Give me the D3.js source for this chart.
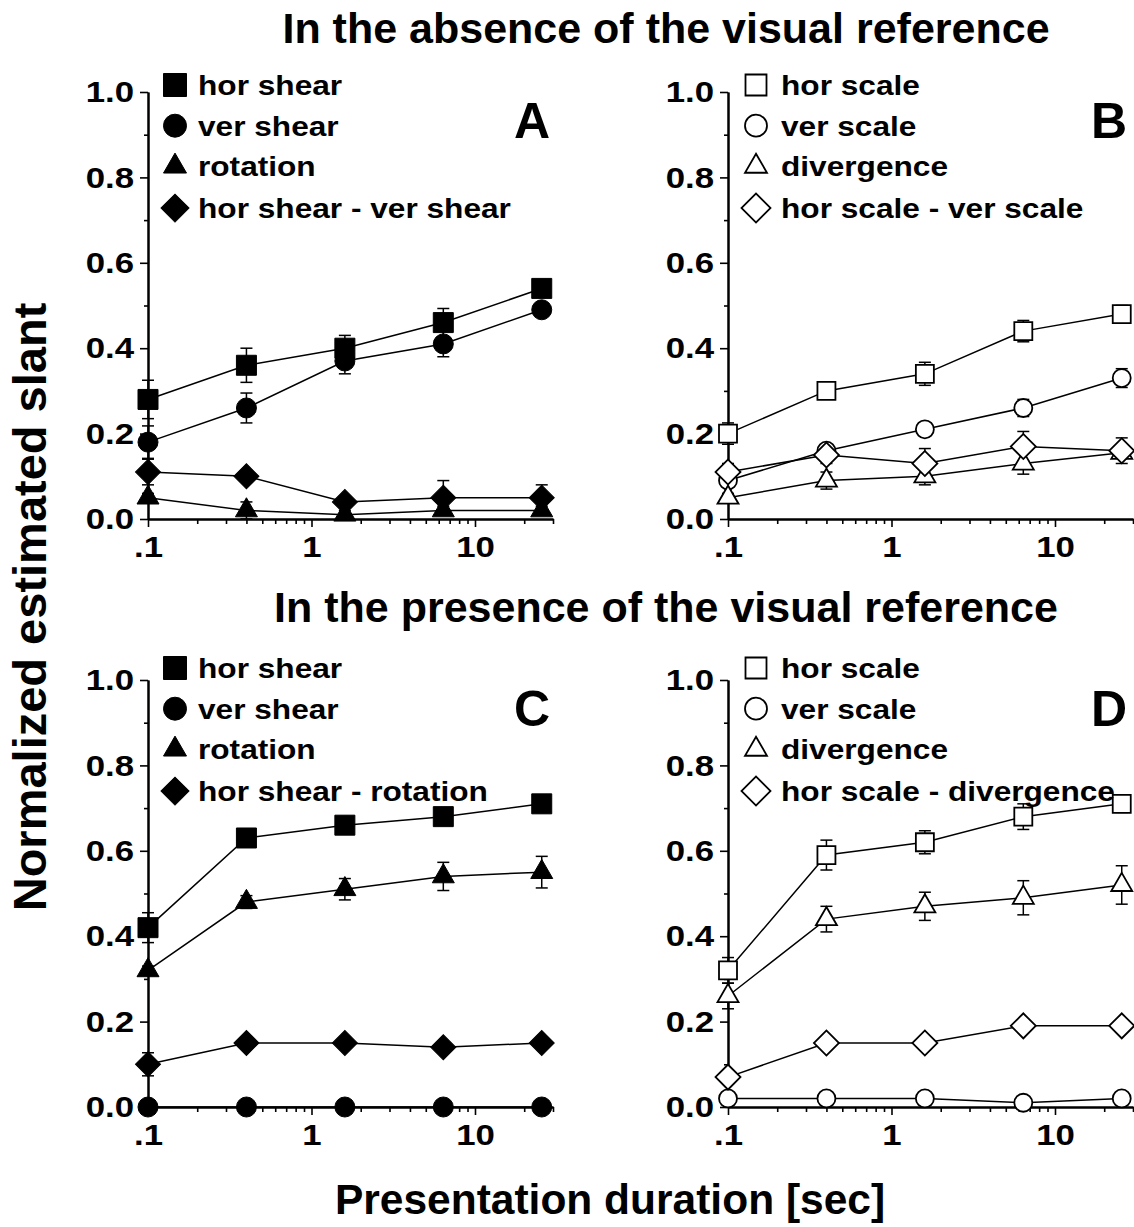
<!DOCTYPE html>
<html>
<head>
<meta charset="utf-8">
<script src="https://cdn.jsdelivr.net/npm/d3@7"></script>
<style>
body { margin: 0; background: #fff; }
svg { display: block; }
text { font-family: "Liberation Sans", Arial, sans-serif; font-weight: bold; fill: #000; }
</style>
</head>
<body>
<div id="chart"></div>
<script>
let width = 1134;
let height = 1227;

// x = presentation duration (sec)
const durations = [0.1, 0.4, 1.6, 6.4, 25.6];
const xMajorTicks = [0.1, 1, 10];
const xTickLabels = [".1", "1", "10"];
const xMinorTicks = [0.2, 0.3, 0.4, 0.5, 0.6, 0.7, 0.8, 0.9, 2, 3, 4, 5, 6, 7, 8, 9, 20, 30];
const yMajorTicks = [0, 0.2, 0.4, 0.6, 0.8, 1.0];
const yMinorTicks = [0.1, 0.3, 0.5, 0.7, 0.9];

const rowTitles = ["In the absence of the visual reference", "In the presence of the visual reference"];
const panelLetters = ["A", "B", "C", "D"];

const legendA = ["hor shear", "ver shear", "rotation", "hor shear - ver shear"];
const legendB = ["hor scale", "ver scale", "divergence", "hor scale - ver scale"];
const legendC = ["hor shear", "ver shear", "rotation", "hor shear - rotation"];
const legendD = ["hor scale", "ver scale", "divergence", "hor scale - divergence"];

// panel A
const aHorShear = [0.28, 0.36, 0.40, 0.46, 0.54];
const aHorShearErr = [0.045, 0.04, 0.03, 0.033, 0.02];
const aVerShear = [0.18, 0.26, 0.37, 0.41, 0.49];
const aVerShearErr = [0.038, 0.035, 0.03, 0.03, 0.01];
const aRotation = [0.05, 0.02, 0.01, 0.02, 0.02];
const aRotationErr = [0.01, 0.02, 0.01, 0.01, 0.01];
const aDiff = [0.11, 0.10, 0.04, 0.05, 0.05];
const aDiffErr = [0.03, 0.01, 0.01, 0.04, 0.03];

// panel B
const bHorScale = [0.20, 0.30, 0.34, 0.44, 0.48];
const bHorScaleErr = [0.025, 0.015, 0.027, 0.025, 0.02];
const bVerScale = [0.09, 0.16, 0.21, 0.26, 0.33];
const bVerScaleErr = [0.01, 0.01, 0.01, 0.02, 0.022];
const bDivergence = [0.05, 0.09, 0.10, 0.13, 0.155];
const bDivergenceErr = [0.01, 0.02, 0.02, 0.025, 0.01];
const bDiff = [0.11, 0.15, 0.13, 0.17, 0.16];
const bDiffErr = [0.02, 0.02, 0.035, 0.035, 0.03];

// panel C
const cHorShear = [0.42, 0.63, 0.66, 0.68, 0.71];
const cHorShearErr = [0.035, 0.015, 0.02, 0.015, 0.02];
const cVerShear = [0, 0, 0, 0, 0];
const cVerShearErr = [0, 0, 0, 0, 0];
const cRotation = [0.32, 0.48, 0.51, 0.54, 0.55];
const cRotationErr = [0.01, 0.015, 0.025, 0.033, 0.037];
const cDiff = [0.10, 0.15, 0.15, 0.14, 0.15];
const cDiffErr = [0.027, 0, 0, 0, 0];

// panel D
const dHorScale = [0.32, 0.59, 0.62, 0.68, 0.71];
const dHorScaleErr = [0.03, 0.035, 0.027, 0.03, 0.02];
const dVerScale = [0.02, 0.02, 0.02, 0.01, 0.02];
const dVerScaleErr = [0, 0, 0, 0, 0];
const dDivergence = [0.26, 0.44, 0.47, 0.49, 0.52];
const dDivergenceErr = [0.03, 0.03, 0.033, 0.04, 0.045];
const dDiff = [0.07, 0.15, 0.15, 0.19, 0.19];
const dDiffErr = [0, 0, 0, 0, 0];

const shapes = ["square", "circle", "triangle", "diamond"];

const panels = [
    {letter: panelLetters[0], col: 0, row: 0, open: false, legend: legendA,
        values: [aHorShear, aVerShear, aRotation, aDiff], errs: [aHorShearErr, aVerShearErr, aRotationErr, aDiffErr]},
    {letter: panelLetters[1], col: 1, row: 0, open: true, legend: legendB,
        values: [bHorScale, bVerScale, bDivergence, bDiff], errs: [bHorScaleErr, bVerScaleErr, bDivergenceErr, bDiffErr]},
    {letter: panelLetters[2], col: 0, row: 1, open: false, legend: legendC,
        values: [cHorShear, cVerShear, cRotation, cDiff], errs: [cHorShearErr, cVerShearErr, cRotationErr, cDiffErr]},
    {letter: panelLetters[3], col: 1, row: 1, open: true, legend: legendD,
        values: [dHorScale, dVerScale, dDivergence, dDiff], errs: [dHorScaleErr, dVerScaleErr, dDivergenceErr, dDiffErr]}
];

const plotW = 405;
const plotH = 427;
const colX = [148, 728];
const rowY = [92, 680];
const legendTop = [3, -2];

// data marker sizes (px across) and legend marker sizes
const markFilled = {square: 20, circle: 20, triangle: 22, diamond: 25};
const markOpen = {square: 18, circle: 18, triangle: 21, diamond: 25};
const legFilled = {square: 23, circle: 23, triangle: 23, diamond: 28};
const legOpen = {square: 21, circle: 22, triangle: 22, diamond: 29};

const tickStretch = 1.16; // glyphs in ticks and legends are drawn wider
const legStretch = 1.13;

function symbolPath(shape, dim) {
    if (shape === "square") return d3.symbol(d3.symbolSquare, dim * dim)();
    if (shape === "circle") return d3.symbol(d3.symbolCircle, Math.PI * dim * dim / 4)();
    if (shape === "triangle") return d3.symbol(d3.symbolTriangle, dim * dim * Math.sqrt(3) / 4)();
    return d3.symbol(d3.symbolSquare, dim * dim / 2)(); // diamond, rotated below
}

function drawMark(g, shape, dim, open, x, y) {
    g.append("path")
        .attr("d", symbolPath(shape, dim))
        .attr("transform", `translate(${x},${y})` + (shape === "diamond" ? " rotate(45)" : ""))
        .attr("fill", open ? "#fff" : "#000")
        .attr("stroke", "#000")
        .attr("stroke-width", open ? 1.8 : 1);
}

let svg = d3.select("#chart")
    .append("svg")
    .attr("width", width)
    .attr("height", height);

const x = d3.scaleLog().domain([0.1, 30]).range([0, plotW]);
const y = d3.scaleLinear().domain([0, 1]).range([plotH, 0]);

const line = d3.line()
    .x(d => x(d[0]))
    .y(d => y(d[1]));

panels.forEach(p => {
    const g = svg.append("g")
        .attr("transform", `translate(${colX[p.col]},${rowY[p.row]})`);

    // axes
    const yAxis = g.append("g")
        .call(d3.axisLeft(y).tickValues(yMajorTicks).tickSize(8).tickSizeOuter(0).tickPadding(6)
            .tickFormat(d3.format(".1f")));
    g.append("g")
        .call(d3.axisLeft(y).tickValues(yMinorTicks).tickSize(4).tickSizeOuter(0).tickFormat(""));
    const xAxis = g.append("g")
        .attr("transform", `translate(0,${plotH})`)
        .call(d3.axisBottom(x).tickValues(xMajorTicks).tickSize(8).tickSizeOuter(0).tickPadding(8)
            .tickFormat((d, i) => xTickLabels[i]));
    g.append("g")
        .attr("transform", `translate(0,${plotH})`)
        .call(d3.axisBottom(x).tickValues(xMinorTicks).tickSize(5).tickSizeOuter(0).tickFormat(""));

    g.selectAll(".domain").attr("stroke-width", 2).attr("stroke", "#000");
    g.selectAll(".tick line").attr("stroke-width", 1.6).attr("stroke", "#000");
    yAxis.selectAll("text")
        .style("font-size", "30px")
        .attr("x", -14 / tickStretch)
        .attr("transform", `scale(${tickStretch},1)`);
    xAxis.selectAll("text")
        .style("font-size", "30px")
        .attr("dy", "0.72em")
        .attr("transform", `scale(${tickStretch},1)`);

    // lines
    p.values.forEach(vals => {
        g.append("path")
            .datum(durations.map((d, i) => [d, vals[i]]))
            .attr("fill", "none")
            .attr("stroke", "#000")
            .attr("stroke-width", 1.5)
            .attr("d", line);
    });

    // error bars
    p.values.forEach((vals, s) => {
        vals.forEach((v, i) => {
            const e = p.errs[s][i];
            if (!e) return;
            const cx = x(durations[i]);
            g.append("line")
                .attr("x1", cx).attr("x2", cx)
                .attr("y1", y(v - e)).attr("y2", y(v + e))
                .attr("stroke", "#000").attr("stroke-width", 1.5);
            [v - e, v + e].forEach(t => {
                g.append("line")
                    .attr("x1", cx - 6).attr("x2", cx + 6)
                    .attr("y1", y(t)).attr("y2", y(t))
                    .attr("stroke", "#000").attr("stroke-width", 1.5);
            });
        });
    });

    // markers
    p.values.forEach((vals, s) => {
        const dims = p.open ? markOpen : markFilled;
        vals.forEach((v, i) => {
            drawMark(g, shapes[s], dims[shapes[s]], p.open, x(durations[i]), y(v));
        });
    });

    // legend
    const legDims = p.open ? legOpen : legFilled;
    const symX = p.open ? 28 : 27;
    const textX = p.open ? 53 : 50;
    p.legend.forEach((name, s) => {
        const base = legendTop[p.row] + s * 40.7 + (s === 3 ? 1 : 0);
        drawMark(g, shapes[s], legDims[shapes[s]], p.open, symX, base - 10);
        g.append("text")
            .attr("transform", `translate(${textX},${base}) scale(${legStretch},1)`)
            .style("font-size", "28px")
            .text(name);
    });

    // panel letter
    g.append("text")
        .attr("x", plotW - (p.open ? 6 : 3))
        .attr("y", 46)
        .attr("text-anchor", "end")
        .style("font-size", "50px")
        .text(p.letter);
});

// row titles
svg.selectAll(".row-title")
    .data(rowTitles)
    .join("text")
    .attr("class", "row-title")
    .attr("x", 666)
    .attr("y", (d, i) => [43, 622][i])
    .attr("text-anchor", "middle")
    .style("font-size", "43px")
    .text(d => d);

// axis titles
svg.append("text")
    .attr("x", 610)
    .attr("y", 1214)
    .attr("text-anchor", "middle")
    .style("font-size", "42.5px")
    .text("Presentation duration [sec]");

svg.append("text")
    .attr("transform", "translate(46,607) rotate(-90)")
    .attr("text-anchor", "middle")
    .style("font-size", "47px")
    .text("Normalized estimated slant");
</script>
</body>
</html>
